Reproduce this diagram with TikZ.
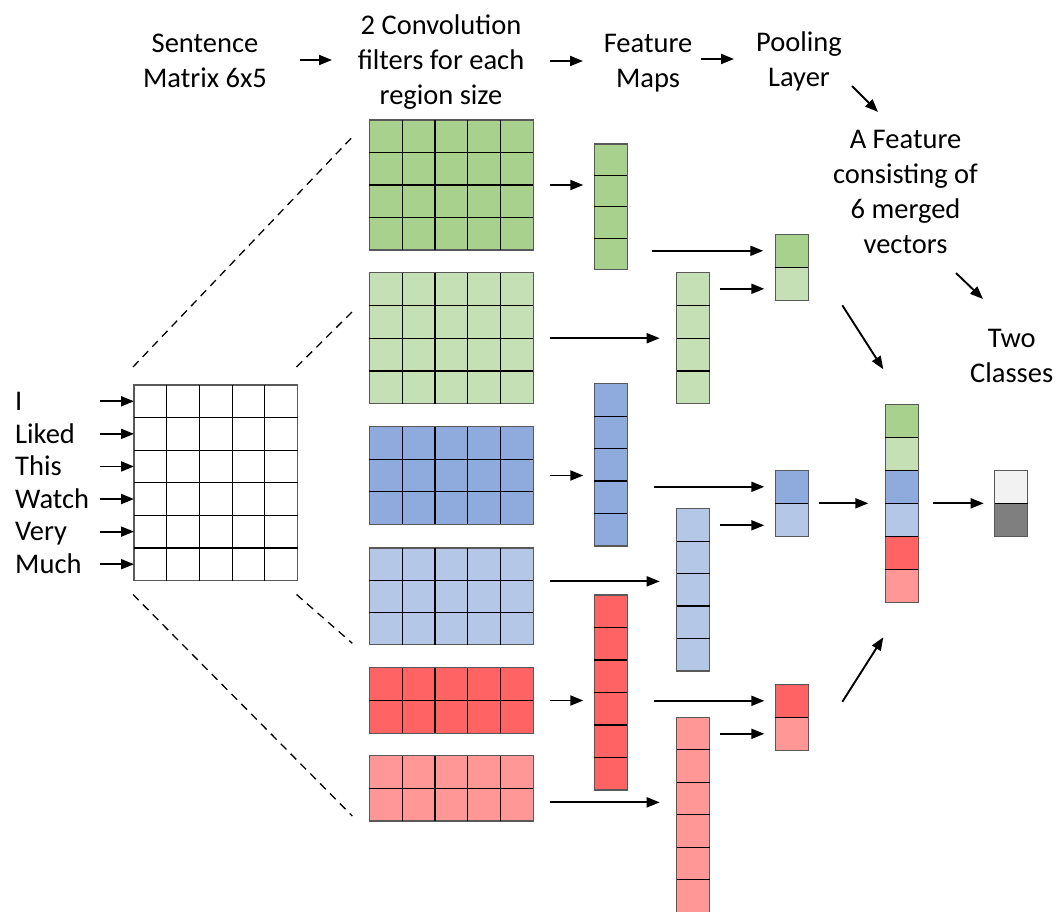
\documentclass[tikz,border=0pt]{standalone}
\usepackage{fontspec}
\setmainfont{Carlito}
\usetikzlibrary{arrows.meta, positioning}

\definecolor{greenDark}{HTML}{A9D18E}
\definecolor{greenLight}{HTML}{C5E0B4}
\definecolor{blueDark}{HTML}{8FAADC}
\definecolor{blueLight}{HTML}{B4C7E7}
\definecolor{redDark}{HTML}{FF6363}
\definecolor{redLight}{HTML}{FF9797}
\definecolor{classA}{HTML}{F2F2F2}
\definecolor{classB}{HTML}{7F7F7F}

\tikzset{
  block/.style={draw=black!65, line width=1.3pt, anchor=north west, inner sep=0pt, outer sep=0pt},
  cell/.style={block, minimum width=33pt, minimum height=33pt},
  gridline/.style={black, line width=1.2pt},
  flow/.style={-{Triangle[length=13pt,width=10pt]}, line width=1.9pt},
  zoomline/.style={line width=1.3pt, dash pattern=on 8pt off 6pt},
  headtext/.style={font=\fontsize{28.5}{35}\selectfont, align=center, inner sep=0pt},
  word/.style={font=\fontsize{28.5}{35}\selectfont, inner sep=0pt, text height=18.5pt, text depth=0pt, anchor=west},
}

% grid of cells: name, x, y, width, height, columns, rows, fill
\newcommand{\gridblock}[8]{%
  \node[block, fill=#8, minimum width=#4pt, minimum height=#5pt] (#1) at (#2,#3) {};
  \ifnum#6>1
    \pgfmathtruncatemacro\lastcol{#6-1}
    \foreach \k in {1,...,\lastcol}
      \draw[gridline] ([xshift={\k*#4/#6}]#1.north west) -- ([xshift={\k*#4/#6}]#1.south west);
  \fi
  \ifnum#7>1
    \pgfmathtruncatemacro\lastrow{#7-1}
    \foreach \k in {1,...,\lastrow}
      \draw[gridline] ([yshift={-\k*#5/#7}]#1.north west) -- ([yshift={-\k*#5/#7}]#1.north east);
  \fi
}

\begin{document}
\begin{tikzpicture}[x=1pt, y=-1pt]

\useasboundingbox (0,0) rectangle (1056,911);

% Headings
\node[headtext] (hsent) at (205,61) {Sentence\\Matrix 6x5};
\node[headtext] (hconv) at (441,62) {2 Convolution\\filters for each\\region size};
\node[headtext] (hfeat) at (648,63) {Feature\\Maps};
\node[headtext] (hpool) at (799,61) {Pooling\\Layer};
\node[headtext] (hmerge) at (905.5,191.5) {A Feature\\consisting of\\6 merged\\vectors};
\node[headtext] (hcls) at (1011.7,355.5) {Two\\Classes};

\draw[flow] ([xshift=95pt,yshift=1pt]hsent.center) -- ([xshift=-109pt,yshift=2pt]hconv.center);
\draw[flow] ([xshift=109pt,yshift=1pt]hconv.center) -- ([xshift=-65pt,yshift=2pt]hfeat.center);
\draw[flow] ([xshift=53pt,yshift=4pt]hfeat.center) -- ([xshift=-65pt,yshift=2pt]hpool.center);
\draw[flow] ([xshift=53pt,yshift=-25pt]hpool.center) -- ([xshift=-27.5pt,yshift=79.5pt]hmerge.center);
\draw[flow] ([xshift=50.5pt,yshift=-81.5pt]hmerge.center) -- ([xshift=-28.7pt,yshift=56.5pt]hcls.center);

% Sentence matrix
\gridblock{sm}{134}{385}{163.5}{195.5}{5}{6}{white}

\foreach \w [count=\i] in {I, Liked, This, Watch, Very, Much} {
  \node[word] (w\i) at (15, {385+32.58*(\i-0.5)}) {\w};
  \draw[flow] ([xshift=-34pt]sm.west |- w\i.west) -- (sm.west |- w\i.west);
}

% Convolution filters
\gridblock{f1}{369.3}{120}{164}{130}{5}{4}{greenDark}
\gridblock{f2}{369.3}{272.7}{164}{131}{5}{4}{greenLight}
\gridblock{f3}{369.3}{426.7}{164}{97.6}{5}{3}{blueDark}
\gridblock{f4}{369.3}{548}{164}{96.7}{5}{3}{blueLight}
\gridblock{f5}{369.3}{667.7}{164}{65.6}{5}{2}{redDark}
\gridblock{f6}{369.3}{755.7}{164}{65.3}{5}{2}{redLight}

% Region lines
\draw[zoomline] ([xshift=-1pt,yshift=18pt]sm.north west) -- ([xshift=-17pt,yshift=-17pt]f1.north west);
\draw[zoomline] ([xshift=-1pt,yshift=18pt]sm.north east) -- ([xshift=-17pt,yshift=-39pt]f2.north west);
\draw[zoomline] ([xshift=-1pt,yshift=-14pt]sm.south west) -- ([xshift=-17pt,yshift=5pt]f6.south west);
\draw[zoomline] ([xshift=-1pt,yshift=-14pt]sm.south east) -- ([xshift=-17pt,yshift=1.4pt]f4.south west);

% Feature maps
\gridblock{fm1}{594.3}{144}{33}{125.7}{1}{4}{greenDark}
\gridblock{fm3}{594.3}{383.7}{33}{162.3}{1}{5}{blueDark}
\gridblock{fm5}{594.3}{595}{33}{195}{1}{6}{redDark}
\gridblock{fm2}{676.7}{272.7}{33}{131}{1}{4}{greenLight}
\gridblock{fm4}{676.7}{508.7}{33}{162.3}{1}{5}{blueLight}
\gridblock{fm6}{676.7}{717.3}{33}{195}{1}{6}{redLight}

\draw[flow] ([xshift=17pt]f1.east) -- ([xshift=-11pt]f1.east -| fm1.west);
\draw[flow] ([xshift=17pt]f2.east) -- ([xshift=-17pt]f2.east -| fm2.west);
\draw[flow] ([xshift=17pt]f3.east) -- ([xshift=-11pt]f3.east -| fm3.west);
\draw[flow] ([xshift=17pt,yshift=15pt]f4.east) -- ([xshift=-17pt,yshift=15pt]f4.east -| fm4.west);
\draw[flow] ([xshift=17pt]f5.east) -- ([xshift=-11pt]f5.east -| fm5.west);
\draw[flow] ([xshift=17pt,yshift=-14pt]f6.east) -- ([xshift=-17pt,yshift=-14pt]f6.east -| fm6.west);

% Pooling layer
\node[cell, fill=greenDark] (p1a) at (775.3,234.3) {};
\node[cell, fill=greenLight, below=0pt of p1a] (p1b) {};
\node[cell, fill=blueDark] (p2a) at (775.3,470.3) {};
\node[cell, fill=blueLight, below=0pt of p2a] (p2b) {};
\node[cell, fill=redDark] (p3a) at (775.3,684.3) {};
\node[cell, fill=redLight, below=0pt of p3a] (p3b) {};

\draw[flow] ([xshift=25pt]fm1.east |- p1a.west) -- ([xshift=-12pt]p1a.west);
\draw[flow] ([xshift=10pt,yshift=-5pt]fm2.east |- p1b.west) -- ([xshift=-11pt,yshift=-5pt]p1b.west);
\draw[flow] ([xshift=27pt]fm3.east |- p2a.west) -- ([xshift=-11pt]p2a.west);
\draw[flow] ([xshift=10pt,yshift=-5.5pt]fm4.east |- p2b.west) -- ([xshift=-11pt,yshift=-5.5pt]p2b.west);
\draw[flow] ([xshift=27pt]fm5.east |- p3a.west) -- ([xshift=-11pt]p3a.west);
\draw[flow] ([xshift=10pt]fm6.east |- p3b.west) -- ([xshift=-11pt]p3b.west);

% Merged feature vector
\node[cell, fill=greenDark] (m1) at (885.3,404.3) {};
\node[cell, fill=greenLight, below=0pt of m1] (m2) {};
\node[cell, fill=blueDark, below=0pt of m2] (m3) {};
\node[cell, fill=blueLight, below=0pt of m3] (m4) {};
\node[cell, fill=redDark, below=0pt of m4] (m5) {};
\node[cell, fill=redLight, below=0pt of m5] (m6) {};

% Two classes
\node[cell, fill=classA] (o1) at (994.7,470.3) {};
\node[cell, fill=classB, below=0pt of o1] (o2) {};

\foreach \c in {p1a, p2a, p3a, m1, m2, m3, m4, m5, o1}
  \draw[gridline] (\c.south west) -- (\c.south east);

\draw[flow] ([xshift=34pt,yshift=-5pt]p1b.south east) -- ([xshift=-2pt,yshift=35pt]m1.north west);
\draw[flow] ([xshift=11pt]p2a.south east) -- ([xshift=-17pt]m3.south west);
\draw[flow] ([xshift=34pt,yshift=-1pt]p3a.east) -- ([xshift=-2pt,yshift=-35pt]m6.south west);
\draw[flow] ([xshift=15pt]m4.north east) -- ([xshift=-11pt]o2.north west);

\end{tikzpicture}
\end{document}
